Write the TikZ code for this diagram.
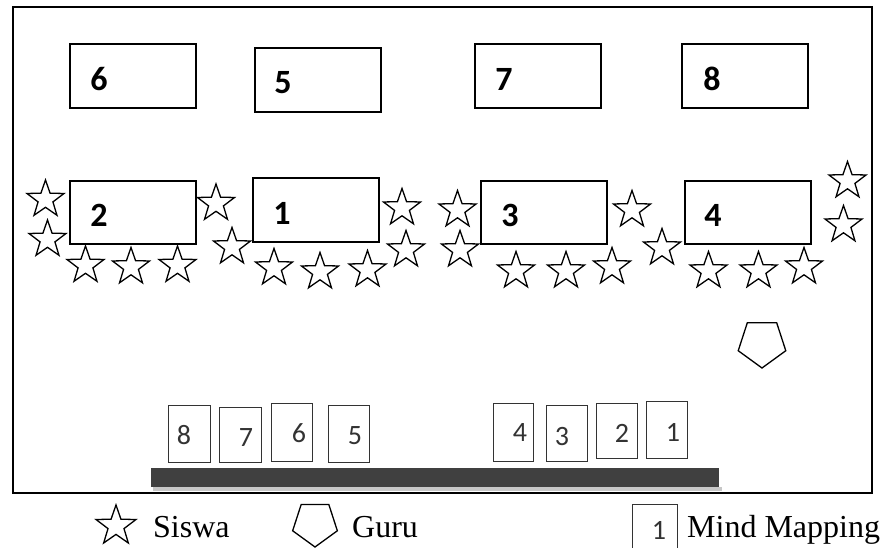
\documentclass[tikz,border=0pt]{standalone}
\usepackage{fontspec}
\setmainfont{Liberation Serif}
\newfontfamily\carl{Carlito}
\usetikzlibrary{shapes.geometric}
\begin{document}
\begin{tikzpicture}[x=1pt,y=-1pt,
  desk/.style={draw, line width=1.7pt, inner sep=0},
  desklabel/.style={font=\carl\bfseries\fontsize{34}{34}\selectfont, inner sep=0},
  card/.style={draw=black!80, line width=0.9pt, inner sep=0},
  cardlabel/.style={font=\carl\fontsize{28}{28}\selectfont, text=black!80, inner sep=0},
  siswa/.style={draw, shape=star, star points=5, star point ratio=2.5, minimum size=39pt, inner sep=0, line width=1.3pt},
  guru/.style={draw, shape=regular polygon, regular polygon sides=5, shape border rotate=180, minimum size=50pt, inner sep=0, line width=1.3pt},
  legtext/.style={font=\fontsize{32}{32}\selectfont, anchor=base west, inner sep=0}]
\useasboundingbox (0,0) rectangle (884,548);
\fill[white] (0,0) rectangle (884,548);
% room frame
\draw[line width=2pt] (13,7) rectangle (872,493);
% desks
\node[desk, minimum width=126pt, minimum height=64pt] (d6) at (133,76) {};
\node[desk, minimum width=126pt, minimum height=64pt] (d5) at (318,80) {};
\node[desk, minimum width=126pt, minimum height=64pt] (d7) at (538,76) {};
\node[desk, minimum width=126pt, minimum height=64pt] (d8) at (745,76) {};
\node[desk, minimum width=126pt, minimum height=63pt] (d2) at (133,212.5) {};
\node[desk, minimum width=126pt, minimum height=64pt] (d1) at (316,210) {};
\node[desk, minimum width=126pt, minimum height=63pt] (d3) at (544,212.5) {};
\node[desk, minimum width=126pt, minimum height=63pt] (d4) at (748,212.5) {};
\node[desklabel] (l6) at (99,79) {6};
\node[desklabel] (l5) at (283,83) {5};
\node[desklabel] (l7) at (504,79) {7};
\node[desklabel] (l8) at (712,79) {8};
\node[desklabel] (l2) at (99,215) {2};
\node[desklabel] (l1) at (282,213) {1};
\node[desklabel] (l3) at (510,215) {3};
\node[desklabel] (l4) at (713,215) {4};
% students
\node[siswa] (s1) at (45.5,199.5) {};
\node[siswa] (s2) at (47.5,239.5) {};
\node[siswa] (s3) at (85.5,265.5) {};
\node[siswa] (s4) at (131,267) {};
\node[siswa] (s5) at (177.5,265.5) {};
\node[siswa] (s6) at (216,203.5) {};
\node[siswa] (s7) at (232,247) {};
\node[siswa] (s8) at (274,268) {};
\node[siswa] (s9) at (320,272) {};
\node[siswa] (s10) at (367.5,270) {};
\node[siswa] (s11) at (402,208) {};
\node[siswa] (s12) at (406,250) {};
\node[siswa] (s13) at (457.5,210) {};
\node[siswa] (s14) at (460,250) {};
\node[siswa] (s15) at (516,271) {};
\node[siswa] (s16) at (566,271) {};
\node[siswa] (s17) at (612,267) {};
\node[siswa] (s18) at (632,210) {};
\node[siswa] (s19) at (662,248) {};
\node[siswa] (s20) at (708.5,271) {};
\node[siswa] (s21) at (758.5,271) {};
\node[siswa] (s22) at (804,267) {};
\node[siswa] (s23) at (847.5,181) {};
\node[siswa] (s24) at (843.5,225) {};
% teacher
\node[guru] (g) at (762,343) {};
% board
\fill[black!22] (153,487) rectangle (722,491);
\fill[black!75] (151,468) rectangle (719,487);
% mind mapping cards
\node[card, minimum width=42pt, minimum height=57pt] (c8) at (189,433.5) {};
\node[card, minimum width=42pt, minimum height=55pt] (c7) at (240,434.5) {};
\node[card, minimum width=41pt, minimum height=58pt] (c6) at (291.5,432) {};
\node[card, minimum width=41pt, minimum height=57pt] (c5) at (348.5,433.5) {};
\node[card, minimum width=40pt, minimum height=58pt] (c4) at (513,432) {};
\node[card, minimum width=41pt, minimum height=56pt] (c3) at (566.5,433) {};
\node[card, minimum width=41pt, minimum height=55pt] (c2) at (616.5,430.5) {};
\node[card, minimum width=41pt, minimum height=57pt] (c1) at (666.5,429.5) {};
\node[cardlabel] (n8) at (184,435) {8};
\node[cardlabel] (n7) at (246,438) {7};
\node[cardlabel] (n6) at (299,433) {6};
\node[cardlabel] (n5) at (355,436) {5};
\node[cardlabel] (n4) at (520,433) {4};
\node[cardlabel] (n3) at (562,437) {3};
\node[cardlabel] (n2) at (622,433) {2};
\node[cardlabel] (n1) at (673,432) {1};
% legend
\node[siswa, minimum size=42pt] (ks) at (116,526) {};
\node[legtext] (kst) at (153,537) {Siswa};
\node[guru, minimum size=47pt] (kg) at (315,523.5) {};
\node[legtext] (kgt) at (352,537) {Guru};
\node[card, minimum width=45pt, minimum height=70pt] (kc) at (654.5,539) {};
\node[cardlabel, font=\carl\fontsize{28}{28}\selectfont] (kcn) at (659,530) {1};
\node[legtext] (kct) at (687,537) {Mind Mapping};
\end{tikzpicture}
\end{document}
